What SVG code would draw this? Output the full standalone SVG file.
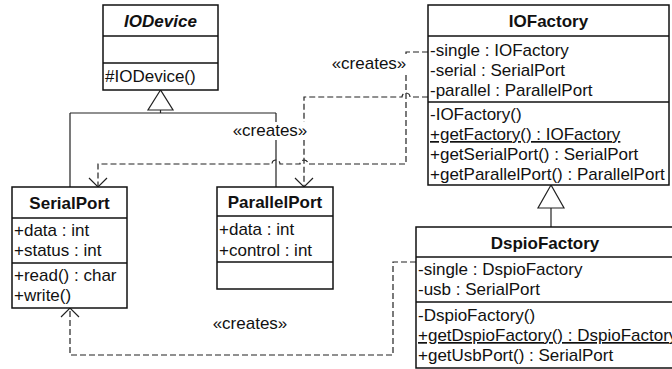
<svg xmlns="http://www.w3.org/2000/svg" width="672" height="369" viewBox="0 0 672 369">
<style>
text{font-family:"Liberation Sans",Arial,sans-serif;font-size:17px;fill:#111}
.t{font-weight:bold;text-anchor:middle}
.box{fill:#fff;stroke:#111;stroke-width:1.5}
.sep{stroke:#111;stroke-width:1.5}
.dep{fill:none;stroke:#222;stroke-width:1.2;stroke-dasharray:6,3}
.gen{fill:none;stroke:#222;stroke-width:1.2}
.tri{fill:#fff;stroke:#222;stroke-width:1.2}
.lbl{text-anchor:middle}
.u{text-decoration:underline}
</style>
<defs>
<marker id="open" viewBox="-11 -11 22 22" markerWidth="22" markerHeight="22" refX="0" refY="0" orient="auto" markerUnits="userSpaceOnUse">
<path d="M-9,-9 L0,0 L-9,9" fill="none" stroke="#222" stroke-width="1.2" stroke-dasharray="none"/>
</marker>
</defs>

<g id="connectors">
<path class="gen" d="M160.5,110 V113 M70,113 H276 M70,113 V187 M276,113 V187"/>
<polygon class="tri" points="160.5,90 148,110 173,110"/>
<path class="gen" d="M551,208 V227"/>
<polygon class="tri" points="551,185 538,208 564,208"/>
<path class="dep" d="M428,52 H406 V164 H308 A4,4 0 0 0 300,164 H280 A4,4 0 0 0 272,164 H98 V187" marker-end="url(#open)"/>
<path class="dep" d="M428,97 H410 A4,4 0 0 0 402,97 H304 V187" marker-end="url(#open)"/>
<path class="dep" d="M416,262 H393 V355 H70 V308" marker-end="url(#open)"/>
<rect x="331" y="54" width="76" height="20" fill="#fff"/>
<text class="lbl" x="369" y="69">«creates»</text>
<rect x="232" y="122" width="76" height="18" fill="#fff"/>
<text class="lbl" x="270" y="136">«creates»</text>
<text class="lbl" x="250" y="329">«creates»</text>
</g>

<g id="IODevice">
<rect class="box" x="103" y="5" width="115" height="85"/>
<line class="sep" x1="103" y1="36" x2="218" y2="36"/>
<line class="sep" x1="103" y1="63" x2="218" y2="63"/>
<text class="t" x="160.5" y="27" font-style="italic">IODevice</text>
<text x="105" y="82">#IODevice()</text>
</g>

<g id="SerialPort">
<rect class="box" x="12" y="187" width="115" height="121"/>
<line class="sep" x1="12" y1="218" x2="127" y2="218"/>
<line class="sep" x1="12" y1="263" x2="127" y2="263"/>
<text class="t" x="69.5" y="209">SerialPort</text>
<text x="14" y="236">+data : int</text>
<text x="14" y="256">+status : int</text>
<text x="14" y="281">+read() : char</text>
<text x="14" y="301">+write()</text>
</g>

<g id="ParallelPort">
<rect class="box" x="217" y="187" width="116" height="102"/>
<line class="sep" x1="217" y1="216" x2="333" y2="216"/>
<line class="sep" x1="217" y1="262" x2="333" y2="262"/>
<text class="t" x="275" y="208">ParallelPort</text>
<text x="219" y="235">+data : int</text>
<text x="219" y="256">+control : int</text>
</g>

<g id="IOFactory">
<rect class="box" x="428" y="5" width="241" height="180"/>
<line class="sep" x1="428" y1="36" x2="669" y2="36"/>
<line class="sep" x1="428" y1="102" x2="669" y2="102"/>
<text class="t" x="548.5" y="27">IOFactory</text>
<text x="430" y="56">-single : IOFactory</text>
<text x="430" y="76">-serial : SerialPort</text>
<text x="430" y="96">-parallel : ParallelPort</text>
<text x="430" y="120">-IOFactory()</text>
<text x="430" y="140" class="u">+getFactory() : IOFactory</text>
<text x="430" y="160">+getSerialPort() : SerialPort</text>
<text x="430" y="180">+getParallelPort() : ParallelPort</text>
</g>

<g id="DspioFactory">
<rect class="box" x="416" y="227" width="280" height="141"/>
<line class="sep" x1="416" y1="257" x2="696" y2="257"/>
<line class="sep" x1="416" y1="302" x2="696" y2="302"/>
<text class="t" x="545" y="249">DspioFactory</text>
<text x="418" y="275">-single : DspioFactory</text>
<text x="418" y="295">-usb : SerialPort</text>
<text x="418" y="321">-DspioFactory()</text>
<text x="418" y="341" class="u">+getDspioFactory() : DspioFactory</text>
<text x="418" y="361">+getUsbPort() : SerialPort</text>
</g>
</svg>
